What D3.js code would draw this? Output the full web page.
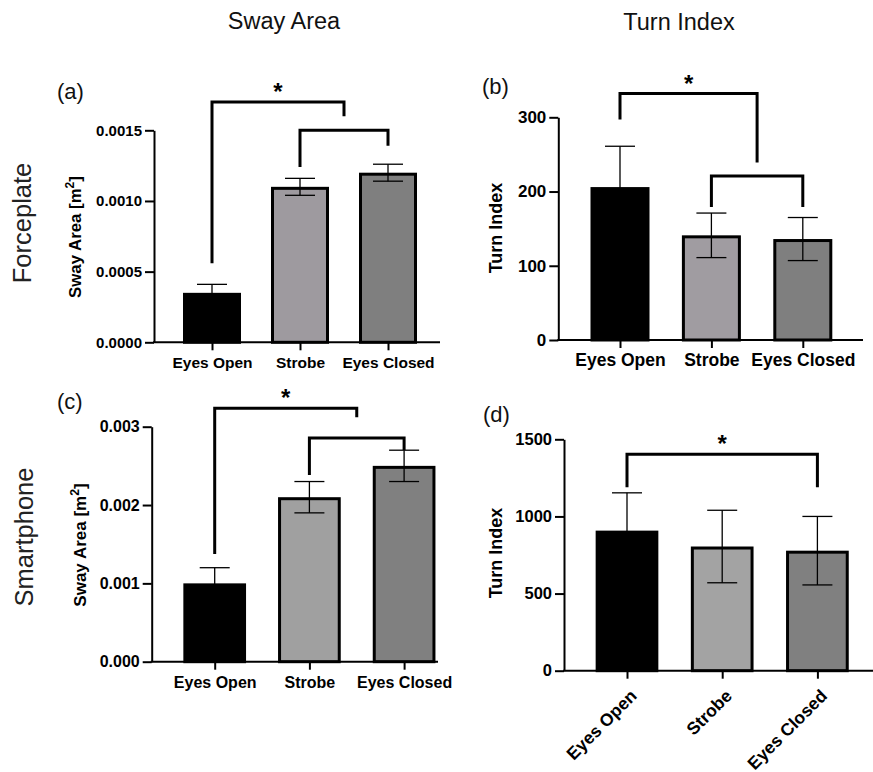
<!DOCTYPE html>
<html>
<head>
<meta charset="utf-8">
<script src="https://cdn.jsdelivr.net/npm/d3@7"></script>
<style>
  body { margin: 0; background: #fff; }
  svg { display: block; font-family: "Liberation Sans", Arial, sans-serif; }
</style>
</head>
<body>
<script>
// ---------------- DATA ----------------
const categories = ["Eyes Open", "Strobe", "Eyes Closed"];

// (a) Forceplate – Sway Area [m^2]
const swayForceMean = [0.00035, 0.0011, 0.0012];
const swayForceSD   = [0.00006, 0.00006, 0.00006];
const swayForceTicks = [0, 0.0005, 0.0010, 0.0015];

// (b) Forceplate – Turn Index
const turnForceMean = [206, 141, 136];
const turnForceSD   = [55, 30, 29];
const turnForceTicks = [0, 100, 200, 300];

// (c) Smartphone – Sway Area [m^2]
const swayPhoneMean = [0.0010, 0.0021, 0.0025];
const swayPhoneSD   = [0.0002, 0.0002, 0.0002];
const swayPhoneTicks = [0, 0.001, 0.002, 0.003];

// (d) Smartphone – Turn Index
const turnPhoneMean = [908, 805, 778];
const turnPhoneSD   = [245, 235, 222];
const turnPhoneTicks = [0, 500, 1000, 1500];

// significance brackets (value units); "to" as array = midpoint of the group
const swayForceBrackets = [
  { from: "Eyes Open", to: ["Strobe", "Eyes Closed"], top: 0.0017, leftEnd: 0.00056, rightEnd: 0.0016, label: "*" },
  { from: "Strobe", to: "Eyes Closed", top: 0.0015, leftEnd: 0.00124, rightEnd: 0.00139, label: "" }
];
const turnForceBrackets = [
  { from: "Eyes Open", to: ["Strobe", "Eyes Closed"], top: 332, leftEnd: 297, rightEnd: 239, label: "*" },
  { from: "Strobe", to: "Eyes Closed", top: 221, leftEnd: 179, rightEnd: 179, label: "" }
];
const swayPhoneBrackets = [
  { from: "Eyes Open", to: ["Strobe", "Eyes Closed"], top: 0.003235, leftEnd: 0.001375, rightEnd: 0.00312, label: "*" },
  { from: "Strobe", to: "Eyes Closed", top: 0.002856, leftEnd: 0.002384, rightEnd: 0.002703, label: "" }
];
const turnPhoneBrackets = [
  { from: "Eyes Open", to: "Eyes Closed", top: 1403, leftEnd: 1189, rightEnd: 1189, label: "*" }
];

const columnTitles = ["Sway Area", "Turn Index"];
const rowTitles = ["Forceplate", "Smartphone"];

// ---------------- LAYOUT / STYLE ----------------
const svg = d3.select("body").append("svg").attr("width", 873).attr("height", 772);

const panels = [
  { tag: "(a)", mean: swayForceMean, sd: swayForceSD, ticks: swayForceTicks, brackets: swayForceBrackets,
    fmt: d3.format(".4f"), yLabel: "sway",
    colors: ["#000000", "#9e9a9f", "#7f7f7f"],
    x0: 154, x1: 440, yB: 342.3, yT: 130.3, c0: 212, step: 88, barW: 58,
    tickFont: 15, xFont: 15.5, yLabFont: 16.8, yLabX: 81, yLabY: 237,
    tagX: 57, tagY: 99, rotate: false },
  { tag: "(b)", mean: turnForceMean, sd: turnForceSD, ticks: turnForceTicks, brackets: turnForceBrackets,
    fmt: d3.format("d"), yLabel: "Turn Index",
    colors: ["#000000", "#a09ca1", "#7f7f7f"],
    x0: 558.3, x1: 863, yB: 340, yT: 117.3, c0: 620, step: 91.4, barW: 59,
    tickFont: 17, xFont: 17.5, yLabFont: 18, yLabX: 502, yLabY: 228,
    tagX: 482, tagY: 94, rotate: false },
  { tag: "(c)", mean: swayPhoneMean, sd: swayPhoneSD, ticks: swayPhoneTicks, brackets: swayPhoneBrackets,
    fmt: d3.format(".3f"), yLabel: "sway",
    colors: ["#000000", "#a0a0a0", "#808080"],
    x0: 151.7, x1: 438, yB: 661.7, yT: 426.7, c0: 214.7, step: 94.7, barW: 62.7,
    tickFont: 16, xFont: 16, yLabFont: 17, yLabX: 86, yLabY: 545,
    tagX: 57, tagY: 409, rotate: false },
  { tag: "(d)", mean: turnPhoneMean, sd: turnPhoneSD, ticks: turnPhoneTicks, brackets: turnPhoneBrackets,
    fmt: d3.format("d"), yLabel: "Turn Index",
    colors: ["#000000", "#a3a3a3", "#808080"],
    x0: 564, x1: 873, yB: 670.7, yT: 439.3, c0: 627, step: 95.2, barW: 62.7,
    tickFont: 16.5, xFont: 17.5, yLabFont: 18, yLabX: 502, yLabY: 553,
    tagX: 483, tagY: 422, rotate: true }
];

// column & row titles
svg.append("text").attr("x", 284).attr("y", 28.5).attr("text-anchor", "middle")
  .attr("font-size", 23.5).attr("fill", "#111").text(columnTitles[0]);
svg.append("text").attr("x", 679).attr("y", 29.5).attr("text-anchor", "middle")
  .attr("font-size", 23.5).attr("fill", "#111").text(columnTitles[1]);
svg.append("text").attr("transform", "translate(31,223) rotate(-90)").attr("text-anchor", "middle")
  .attr("font-size", 25.5).attr("fill", "#222").text(rowTitles[0]);
svg.append("text").attr("transform", "translate(33,537) rotate(-90)").attr("text-anchor", "middle")
  .attr("font-size", 25.5).attr("fill", "#222").text(rowTitles[1]);

panels.forEach(p => {
  const g = svg.append("g");
  const maxV = p.ticks[p.ticks.length - 1];
  const y = d3.scaleLinear().domain([0, maxV]).range([p.yB, p.yT]);
  const x = d3.scalePoint().domain(categories).range([p.c0, p.c0 + 2 * p.step]);
  const xPos = c => Array.isArray(c) ? d3.mean(c, k => x(k)) : x(c);

  // bars
  g.selectAll("rect.bar").data(categories).join("rect")
    .attr("class", "bar")
    .attr("x", d => x(d) - p.barW / 2 + 1.5)
    .attr("width", p.barW - 3)
    .attr("y", (d, i) => y(p.mean[i]) + 1.5)
    .attr("height", (d, i) => p.yB - y(p.mean[i]) - 1.5)
    .attr("fill", (d, i) => p.colors[i])
    .attr("stroke", "#000").attr("stroke-width", 3);

  // error bars
  const eb = g.selectAll("g.eb").data(categories).join("g").attr("class", "eb")
    .attr("stroke", "#000").attr("stroke-width", 1.3);
  eb.append("line")
    .attr("x1", d => x(d)).attr("x2", d => x(d))
    .attr("y1", (d, i) => y(p.mean[i] - p.sd[i])).attr("y2", (d, i) => y(p.mean[i] + p.sd[i]));
  eb.append("line")
    .attr("x1", d => x(d) - 15).attr("x2", d => x(d) + 15)
    .attr("y1", (d, i) => y(p.mean[i] + p.sd[i])).attr("y2", (d, i) => y(p.mean[i] + p.sd[i]));
  eb.append("line")
    .attr("x1", d => x(d) - 15).attr("x2", d => x(d) + 15)
    .attr("y1", (d, i) => y(p.mean[i] - p.sd[i])).attr("y2", (d, i) => y(p.mean[i] - p.sd[i]));

  // y axis
  const ya = g.append("g").attr("transform", `translate(${p.x0},0)`)
    .call(d3.axisLeft(y).tickValues(p.ticks).tickFormat(p.fmt).tickSize(9).tickSizeOuter(0).tickPadding(3));
  ya.select(".domain").attr("stroke", "#000").attr("stroke-width", 2);
  ya.selectAll(".tick line").attr("stroke", "#000").attr("stroke-width", 2);
  ya.selectAll(".tick text").attr("font-size", p.tickFont).attr("font-weight", "bold")
    .attr("font-family", "Liberation Sans, Arial, sans-serif").attr("fill", "#000");

  // x axis
  const xa = g.append("g").attr("transform", `translate(0,${p.yB})`)
    .call(d3.axisBottom(x).tickSize(8).tickSizeOuter(0).tickPadding(6));
  xa.select(".domain").remove();
  xa.append("line").attr("x1", p.x0 - 1).attr("x2", p.x1).attr("y1", 0).attr("y2", 0)
    .attr("stroke", "#000").attr("stroke-width", 2);
  xa.selectAll(".tick line").attr("stroke", "#000").attr("stroke-width", 2);
  const xt = xa.selectAll(".tick text").attr("font-size", p.xFont).attr("font-weight", "bold")
    .attr("font-family", "Liberation Sans, Arial, sans-serif").attr("fill", "#000");
  if (p.rotate) {
    xt.attr("text-anchor", "end").attr("dy", "0.35em")
      .attr("transform", "translate(6,22) rotate(-45)").attr("y", 0);
  } else {
    xt.attr("dy", "0").attr("y", 26);
  }

  // y label
  const yl = g.append("text")
    .attr("transform", `translate(${p.yLabX},${p.yLabY}) rotate(-90)`)
    .attr("text-anchor", "middle").attr("font-weight", "bold").attr("font-size", p.yLabFont).attr("fill", "#000");
  if (p.yLabel === "sway") {
    yl.append("tspan").text("Sway Area [m");
    yl.append("tspan").attr("font-size", p.yLabFont * 0.72).attr("dy", -p.yLabFont * 0.42).text("2");
    yl.append("tspan").attr("dy", p.yLabFont * 0.42).text("]");
  } else {
    yl.text(p.yLabel);
  }

  // panel tag
  g.append("text").attr("x", p.tagX).attr("y", p.tagY).attr("font-size", 22).attr("fill", "#111").text(p.tag);

  // brackets
  p.brackets.forEach(b => {
    const xl = xPos(b.from), xr = xPos(b.to);
    g.append("path")
      .attr("d", `M${xl},${y(b.leftEnd)}V${y(b.top)}H${xr}V${y(b.rightEnd)}`)
      .attr("fill", "none").attr("stroke", "#000").attr("stroke-width", 3);
    if (b.label) {
      g.append("text").attr("x", (xl + xr) / 2).attr("y", y(b.top) - 2)
        .attr("text-anchor", "middle").attr("font-weight", "bold").attr("font-size", 24)
        .attr("fill", "#000").text(b.label);
    }
  });
});
</script>
</body>
</html>
